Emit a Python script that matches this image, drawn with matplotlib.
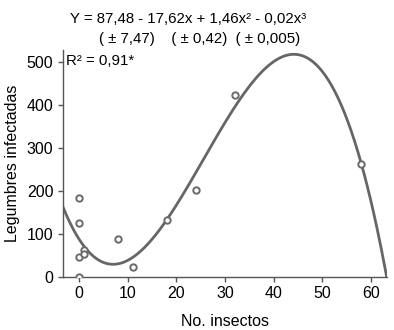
import numpy as np
import matplotlib
matplotlib.use("Agg")
import matplotlib.pyplot as plt

plt.rcParams['font.family'] = ['Liberation Sans', 'DejaVu Sans']

# observed data
insectos = [0, 0, 0, 1, 1, 0, 8, 11, 18, 24, 32, 58]
legumbres = [184, 125, 46, 62, 52, 0, 87, 22, 133, 201, 423, 263]

xticks = [0, 10, 20, 30, 40, 50, 60]
yticks = [0, 100, 200, 300, 400, 500]

eq_line1 = "Y = 87,48 - 17,62x + 1,46x² - 0,02x³"
eq_line2 = "( ± 7,47)    ( ± 0,42)  ( ± 0,005)"
r2_text = "R² = 0,91*"

fig = plt.figure(figsize=(3.94, 3.30), dpi=100)
ax = fig.add_axes([0.16, 0.162, 0.822, 0.686])

coefs = np.polyfit(insectos, legumbres, 3)
xs = np.linspace(-3.3, 63.3, 300)
ax.plot(xs, np.polyval(coefs, xs), color='#666666', lw=2.0, zorder=2)
ax.plot(insectos, legumbres, linestyle='none', marker='o', ms=4.6,
        mfc='white', mec='#6a6a6a', mew=1.4, zorder=3)

ax.set_xlim(-3.3, 63.3)
ax.set_ylim(0, 528)
ax.set_xticks(xticks)
ax.set_yticks(yticks)
for s in ['top', 'right']:
    ax.spines[s].set_visible(False)
for s in ['left', 'bottom']:
    ax.spines[s].set_color('#555555')
    ax.spines[s].set_linewidth(1.0)
ax.tick_params(colors='#555555', labelcolor='black', labelsize=11.5, length=3.5, width=1.0)

ax.set_xlabel("No. insectos", fontsize=11.5, labelpad=9)
ax.set_ylabel("Legumbres infectadas", fontsize=11.5, labelpad=5)

fig.text(188/394, 1-19/330, eq_line1, ha='center', va='center', fontsize=10.8)
fig.text(200/394, 1-39/330, eq_line2, ha='center', va='center', fontsize=10.8)
fig.text(66/394, 1-61/330, r2_text, ha='left', va='center', fontsize=10.8)

fig.savefig("out.png", dpi=100)
